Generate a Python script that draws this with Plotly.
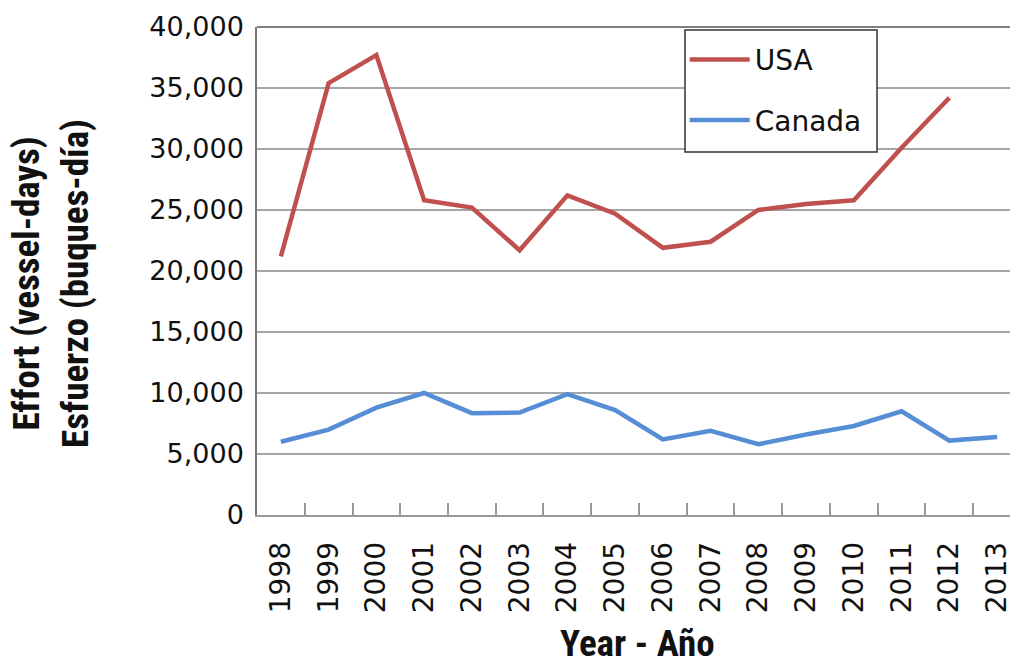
import plotly.graph_objects as go

years = ["1998", "1999", "2000", "2001", "2002", "2003", "2004", "2005",
         "2006", "2007", "2008", "2009", "2010", "2011", "2012", "2013"]
usa = [21200, 35400, 37700, 25800, 25200, 21700, 26200, 24700,
       21900, 22400, 25000, 25500, 25800, 30100, 34200, None]
canada = [6000, 7000, 8800, 10000, 8350, 8400, 9900, 8600,
          6200, 6900, 5800, 6600, 7300, 8500, 6100, 6400]
y_ticks = [0, 5000, 10000, 15000, 20000, 25000, 30000, 35000, 40000]
y_tick_text = ["0", "5,000", "10,000", "15,000", "20,000", "25,000", "30,000", "35,000", "40,000"]

TICK_FONT = "DejaVu Sans, Verdana, sans-serif"
TITLE_FONT = "Liberation Sans Narrow, Arial Narrow, Roboto Condensed, Liberation Sans, sans-serif"

fig = go.Figure()
fig.add_trace(go.Scatter(x=years, y=usa, name="USA", mode="lines", legendgroup="a",
                         line=dict(color="#C0504D", width=4.5), connectgaps=False))
fig.add_trace(go.Scatter(x=years, y=canada, name="Canada", mode="lines", legendgroup="b",
                         line=dict(color="#558ED5", width=4.5)))

fig.update_layout(
    width=1011, height=661,
    margin=dict(l=257, r=1, t=27, b=146, autoexpand=False),
    paper_bgcolor="white", plot_bgcolor="white",
    showlegend=True,
    legend=dict(x=0.568, y=0.984, xanchor="left", yanchor="top",
                bgcolor="rgba(0,0,0,0)", borderwidth=0,
                font=dict(family=TICK_FONT, size=28, color="#111111"),
                tracegroupgap=21, itemwidth=60),
    xaxis=dict(type="category", range=[-0.5, 15.27], automargin=False,
               showline=True, linecolor="#999999", linewidth=1.5,
               ticks="inside", ticklen=12, tickcolor="#999999", tickwidth=1.5,
               tickson="boundaries", tickangle=-90,
               tickfont=dict(family=TICK_FONT, size=28, color="#111111"),
               ticklabelstandoff=14, showgrid=False, zeroline=False),
    yaxis=dict(range=[0, 40000], tickvals=y_ticks, ticktext=y_tick_text, automargin=False,
               showline=True, linecolor="#777777", linewidth=1.5,
               showgrid=True, gridcolor="#A6A6A6", gridwidth=1.5,
               ticks="", zeroline=False,
               tickfont=dict(family=TICK_FONT, size=27, color="#111111"),
               ticklabelstandoff=6),
)

# plot-area top border
fig.add_shape(type="line", xref="paper", yref="paper", x0=0, x1=1, y0=1, y1=1,
              line=dict(color="#555555", width=1.5))
# legend frame
fig.add_shape(type="rect", xref="paper", yref="paper", x0=0.5684, x1=0.8234, y0=0.7439, y1=0.9939,
              line=dict(color="#333333", width=1.5), fillcolor="white", layer="above")

fig.add_annotation(text="<b>Effort (vessel-days)<br>Esfuerzo (buques-día)</b>",
                   xref="paper", yref="paper", x=-0.274, y=0.475,
                   xanchor="center", yanchor="middle", textangle=-90,
                   showarrow=False, align="center",
                   font=dict(family=TITLE_FONT, size=37, color="#111111"))
fig.add_annotation(text="<b>Year - Año</b>",
                   xref="paper", yref="paper", x=0.505, y=-0.264,
                   xanchor="center", yanchor="middle",
                   showarrow=False,
                   font=dict(family=TITLE_FONT, size=37, color="#111111"))

fig.write_html("out.html", config={"displayModeBar": False},
               post_script="document.body.style.margin='0';document.body.style.overflow='hidden';")
